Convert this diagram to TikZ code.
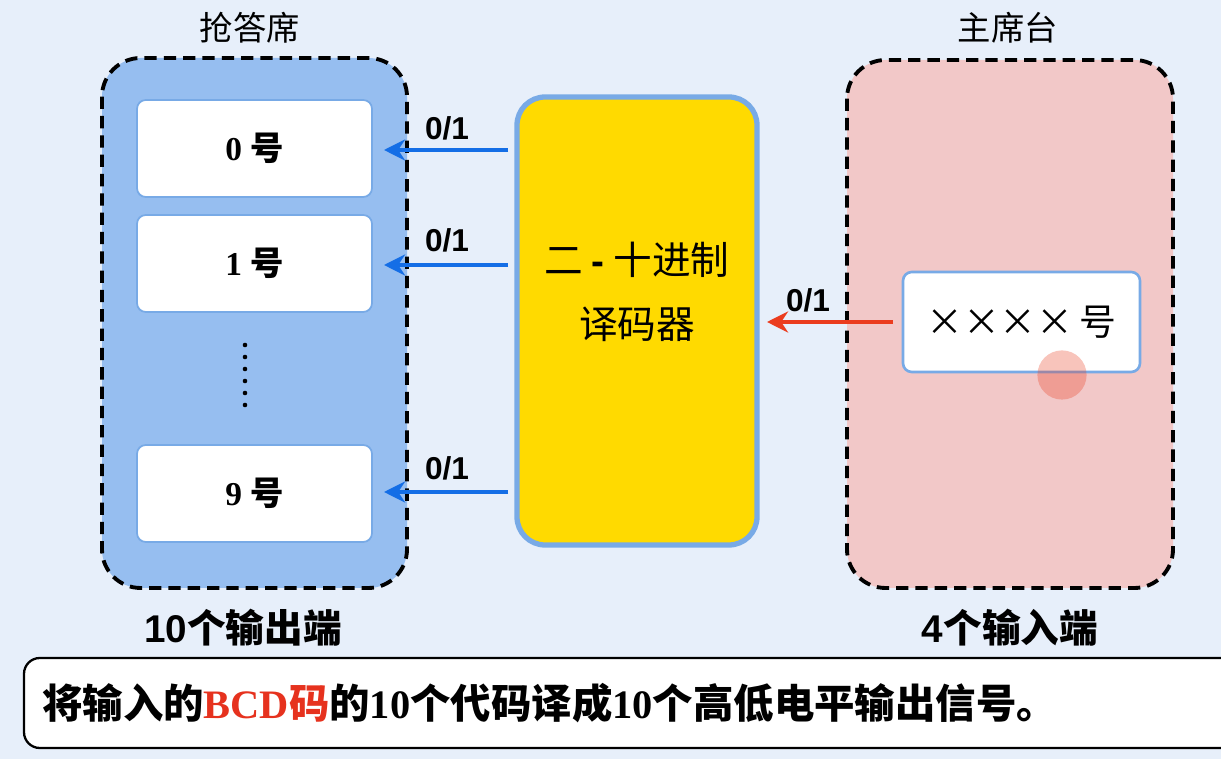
\documentclass[tikz,border=0pt]{standalone}
\usepackage{fontspec}
\setmainfont{Liberation Serif}
\newfontfamily\cjk{Noto Sans CJK SC}
\newfontfamily\arial{Liberation Sans}
\definecolor{bg}{RGB}{231,239,250}
\definecolor{lblue}{RGB}{150,190,240}
\definecolor{pinkf}{RGB}{242,200,200}
\definecolor{gold}{RGB}{255,218,0}
\definecolor{edgeb}{RGB}{120,170,230}
\definecolor{arrb}{RGB}{20,110,230}
\definecolor{arrr}{RGB}{235,60,30}
\definecolor{redt}{RGB}{230,50,30}
\usetikzlibrary{arrows.meta}
\begin{document}
\begin{tikzpicture}[x=0.02cm,y=-0.02cm,
  grp/.style={draw=black,line width=2.2pt,dash pattern=on 7pt off 4pt,rounded corners=22pt},
  wbox/.style={draw=edgeb,line width=1pt,fill=white,rounded corners=5pt},
  ttl/.style={font=\cjk\fontsize{19}{22}\selectfont},
  lab/.style={font=\arial\bfseries\fontsize{18}{20}\selectfont},
  num/.style={font=\bfseries\fontsize{19}{22}\selectfont},
  barr/.style={draw=arrb,line width=2.2pt,-{Stealth[length=12pt,width=12pt]}},
  rarr/.style={draw=arrr,line width=2.2pt,-{Stealth[length=12pt,width=12pt]}}]
\fill[bg] (0,0) rectangle (1221,759);
\useasboundingbox (0,0) rectangle (1221,759);
% left group
\draw[grp,fill=lblue] (102,58) rectangle (407,588);
\node[ttl] (t1) at (250,28) {抢答席};
\node[wbox,minimum width=235*0.02cm,minimum height=97*0.02cm] (b0) at (254.5,148.5) {};
\node[num] at (b0) {0 {\cjk 号}};
\node[wbox,minimum width=235*0.02cm,minimum height=97*0.02cm] (b1) at (254.5,263.5) {};
\node[num] at (b1) {1 {\cjk 号}};
\node[wbox,minimum width=235*0.02cm,minimum height=97*0.02cm] (b9) at (254.5,493.5) {};
\node[num] at (b9) {9 {\cjk 号}};
\foreach \y in {345,357,...,410} \fill (245,\y) circle (1.3pt);
\node[font=\cjk\bfseries\fontsize{22}{24}\selectfont] (o1) at (243,628) {\textbf{\arial 10}个输出端};
% decoder
\node[draw=edgeb,line width=3pt,fill=gold,rounded corners=16pt,minimum width=240*0.02cm,minimum height=448*0.02cm] (dec) at (637,321) {};
\node[font=\cjk\fontsize{22}{36}\selectfont,align=center] at (637,292) {二 {\arial\bfseries -} 十进制\\译码器};
\coordinate (s0) at (508,150); \coordinate (e0) at (384,150);
\coordinate (s1) at (508,265); \coordinate (e1) at (384,265);
\coordinate (s9) at (508,492); \coordinate (e9) at (384,492);
\draw[barr] (s0) -- (e0); \draw[barr] (s1) -- (e1); \draw[barr] (s9) -- (e9);
\node[lab] at (447,128) {0/1};
\node[lab] at (447,240) {0/1};
\node[lab] at (447,468) {0/1};
% right group
\draw[grp,fill=pinkf] (847,60) rectangle (1173,588);
\node[ttl] (t2) at (1008,28) {主席台};
\node[wbox,line width=1.5pt,minimum width=237*0.02cm,minimum height=100*0.02cm] (inp) at (1021.5,322) {};
\node[font=\cjk\fontsize{21}{24}\selectfont] at (inp) {××××\,号};
\fill[arrr,opacity=0.3] (1062,375) circle (14pt);
\coordinate (rs) at (893,322); \coordinate (re) at (767,322);
\draw[rarr] (rs) -- (re);
\node[lab] at (808,300) {0/1};
\node[font=\cjk\bfseries\fontsize{22}{24}\selectfont] (o2) at (1010,628) {\textbf{\arial 4}个输入端};
% bottom
\draw[line width=1.3pt,fill=white,rounded corners=9pt] (24,658) rectangle (1240,748);
\node[anchor=west,font=\cjk\bfseries\fontsize{23}{26}\selectfont] (bt) at (36,703) {将输入的\textcolor{redt}{\textbf{\rmfamily BCD}码}的\textbf{\rmfamily 10}个代码译成\textbf{\rmfamily 10}个高低电平输出信号。};
\end{tikzpicture}
\end{document}
